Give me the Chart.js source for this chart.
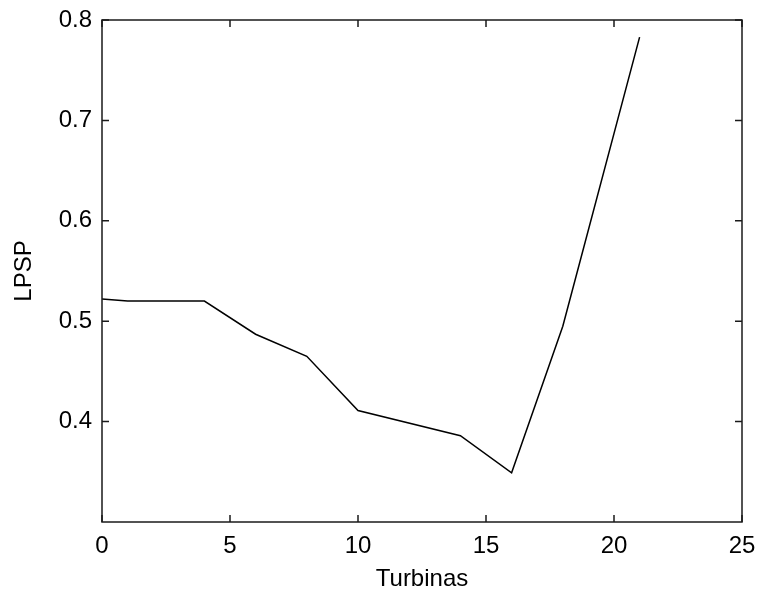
<!DOCTYPE html>
<html>
<head>
<meta charset="utf-8">
<script src="https://cdn.jsdelivr.net/npm/chart.js@4/dist/chart.umd.min.js"></script>
<style>
  html, body { margin: 0; padding: 0; background: #fff; }
  #wrap { width: 758px; height: 594px; }
</style>
</head>
<body>
<div id="wrap"><canvas id="chart" width="758" height="594"></canvas></div>
<script>
// values
const turbinas = [0, 1, 4, 6, 8, 10, 14, 16, 18, 21];
const lpsp = [0.522, 0.520, 0.520, 0.487, 0.465, 0.411, 0.386, 0.349, 0.495, 0.783];
const xTicks = [0, 5, 10, 15, 20, 25];
const yTicks = [0.4, 0.5, 0.6, 0.7, 0.8];

const FONT = 'Liberation Sans, Arial, sans-serif';
const AXIS = '#1a1a1a';

// matlab style box with ticks pointing inwards
const boxTicks = {
    id: 'boxTicks',
    afterDraw(chart) {
        const ctx = chart.ctx;
        const a = chart.chartArea;
        const xs = chart.scales.x;
        const ys = chart.scales.y;
        const len = 7;
        ctx.save();
        ctx.strokeStyle = AXIS;
        ctx.lineWidth = 1.5;
        ctx.strokeRect(a.left, a.top, a.right - a.left, a.bottom - a.top);
        ctx.beginPath();
        xTicks.forEach(v => {
            const px = xs.getPixelForValue(v);
            ctx.moveTo(px, a.bottom); ctx.lineTo(px, a.bottom - len);
            ctx.moveTo(px, a.top); ctx.lineTo(px, a.top + len);
        });
        yTicks.forEach(v => {
            const py = ys.getPixelForValue(v);
            ctx.moveTo(a.left, py); ctx.lineTo(a.left + len, py);
            ctx.moveTo(a.right, py); ctx.lineTo(a.right - len, py);
        });
        ctx.stroke();
        ctx.restore();
    }
};

const points = turbinas.map((t, i) => ({x: t, y: lpsp[i]}));

new Chart(document.getElementById('chart').getContext('2d'), {
    type: 'line',
    data: {
        datasets: [{
            data: points,
            borderColor: '#000',
            borderWidth: 1.5,
            pointRadius: 0,
            fill: false,
            tension: 0
        }]
    },
    options: {
        responsive: false,
        animation: false,
        layout: { padding: { left: 0, right: 16, top: 20, bottom: 0 } },
        plugins: { legend: { display: false }, tooltip: { enabled: false } },
        scales: {
            x: {
                type: 'linear',
                min: 0,
                max: 25,
                grid: { display: false, drawTicks: false },
                border: { display: false },
                afterBuildTicks: s => { s.ticks = xTicks.map(v => ({value: v})); },
                afterFit: s => { s.height = 72; s.paddingLeft = 0; s.paddingRight = 0; },
                ticks: {
                    padding: 10,
                    color: '#000',
                    font: { family: FONT, size: 24 },
                    callback: v => v.toString()
                },
                title: {
                    display: true,
                    text: 'Turbinas',
                    color: '#000',
                    font: { family: FONT, size: 24 },
                    padding: { top: 2, bottom: 0 }
                }
            },
            y: {
                min: 0.3,
                max: 0.8,
                grid: { display: false, drawTicks: false },
                border: { display: false },
                afterBuildTicks: s => { s.ticks = yTicks.map(v => ({value: v})); },
                afterFit: s => { s.width = 102; s.paddingTop = 0; s.paddingBottom = 0; },
                ticks: {
                    padding: 10,
                    color: '#000',
                    font: { family: FONT, size: 24 },
                    callback: v => v.toFixed(1)
                },
                title: {
                    display: true,
                    text: 'LPSP',
                    color: '#000',
                    font: { family: FONT, size: 24 },
                    padding: { top: 10, bottom: 0 }
                }
            }
        }
    },
    plugins: [boxTicks]
});
</script>
</body>
</html>
